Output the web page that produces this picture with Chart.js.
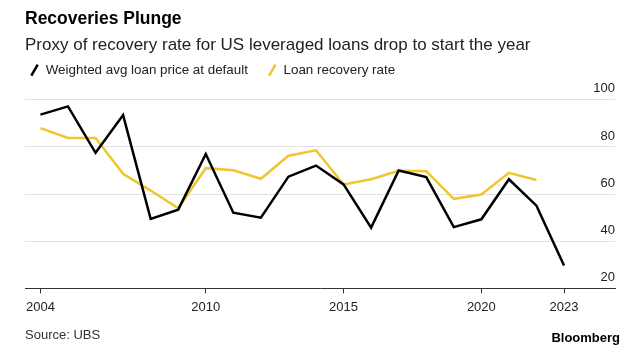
<!DOCTYPE html>
<html>
<head>
<meta charset="utf-8">
<script src="https://cdn.jsdelivr.net/npm/chart.js@4"></script>
<style>
  html, body { margin: 0; padding: 0; background: #fff; }
  #wrap { position: relative; width: 640px; height: 359px; }
  #foot-left, #foot-right {
    position: absolute; top: 327px; font-family: 'Liberation Sans', Arial, sans-serif;
    font-size: 13px; color: #333;
  }
  #foot-left { left: 25px; }
  #foot-right { right: 20px; top: 330px; font-weight: bold; color: #000; }
</style>
</head>
<body>
<div id="wrap">
  <canvas id="chart" width="640" height="359"></canvas>
  <div id="foot-left">Source: UBS</div>
  <div id="foot-right">Bloomberg</div>
</div>
<script>
const years = [2004, 2005, 2006, 2007, 2008, 2009, 2010, 2011, 2012, 2013,
  2014, 2015, 2016, 2017, 2018, 2019, 2020, 2021, 2022, 2023];
const loanPrice = [93.7, 97.2, 77.5, 93.5, 49.5, 53.4, 77.0, 52.1, 50.0, 67.4,
  72.1, 64.1, 45.8, 70.0, 67.2, 46.0, 49.3, 66.3, 55.1, 29.7];
const recoveryRate = [88.0, 83.8, 83.8, 68.6, 61.5, 54.0, 71.0, 70.1, 66.5, 76.3,
  78.6, 64.1, 66.3, 69.9, 69.7, 58.0, 59.8, 69.0, 66.0];
const xTicks = [2004, 2010, 2015, 2020, 2023];

Chart.defaults.font.family = "'Liberation Sans', Arial, sans-serif";
Chart.defaults.color = '#222';

// push the plot down a bit below the legend
const legendGap = {
  id: 'legendGap',
  beforeInit(chart) {
    const fit = chart.legend.fit;
    chart.legend.fit = function() {
      fit.bind(chart.legend)();
      this.height += 13;
    };
  }
};

const ctx = document.getElementById('chart').getContext('2d');
new Chart(ctx, {
  type: 'line',
  data: {
    datasets: [
      {
        label: 'Weighted avg loan price at default',
        data: years.map((y, i) => ({ x: y, y: loanPrice[i] })),
        borderColor: '#000',
        borderWidth: 2.5,
        pointRadius: 0,
        pointStyle: 'line',
        pointRotation: -60,
        pointBorderColor: '#000',
        pointBorderWidth: 2.5,
        tension: 0
      },
      {
        label: 'Loan recovery rate',
        data: recoveryRate.map((v, i) => ({ x: years[i], y: v })),
        borderColor: '#f0c530',
        borderWidth: 2.5,
        pointRadius: 0,
        pointStyle: 'line',
        pointRotation: -60,
        pointBorderColor: '#f0c530',
        pointBorderWidth: 2.5,
        tension: 0
      }
    ]
  },
  options: {
    responsive: false,
    animation: false,
    layout: { padding: { left: 25, right: 25, bottom: 38 } },
    plugins: {
      title: {
        display: true,
        text: 'Recoveries Plunge',
        align: 'start',
        color: '#000',
        font: { size: 17.5, weight: 'bold' },
        padding: { top: 9, bottom: 2 }
      },
      subtitle: {
        display: true,
        text: 'Proxy of recovery rate for US leveraged loans drop to start the year',
        align: 'start',
        color: '#222',
        font: { size: 17 },
        padding: { top: 3, bottom: 3 }
      },
      legend: {
        position: 'top',
        align: 'start',
        labels: {
          usePointStyle: true,
          boxWidth: 9,
          boxHeight: 9,
          font: { size: 13.4 },
          color: '#222',
          padding: 5,
          // wider gap after the first item, like the original
          generateLabels: (chart) => {
            const items = Chart.defaults.plugins.legend.labels.generateLabels(chart);
            items[0].text += '    ';
            return items;
          }
        }
      },
      tooltip: { enabled: false }
    },
    scales: {
      x: {
        type: 'linear',
        min: 2003.44,
        max: 2024.85,
        afterBuildTicks: (scale) => {
          scale.ticks = xTicks.map(v => ({ value: v }));
        },
        grid: {
          drawOnChartArea: false,
          drawTicks: true,
          tickLength: 5,
          color: '#333'
        },
        border: { display: true, color: '#333', width: 1 },
        ticks: {
          callback: (v) => String(v),
          font: { size: 13 },
          color: '#222',
          padding: 6,
          maxRotation: 0
        }
      },
      y: {
        position: 'right',
        min: 20,
        max: 100,
        ticks: {
          stepSize: 20,
          mirror: true,
          padding: 0,
          labelOffset: -11,
          font: { size: 13 },
          color: '#222'
        },
        grid: { color: '#e2e2e2', lineWidth: 1, drawTicks: false },
        border: { display: false }
      }
    }
  },
  plugins: [legendGap]
});
</script>
</body>
</html>
